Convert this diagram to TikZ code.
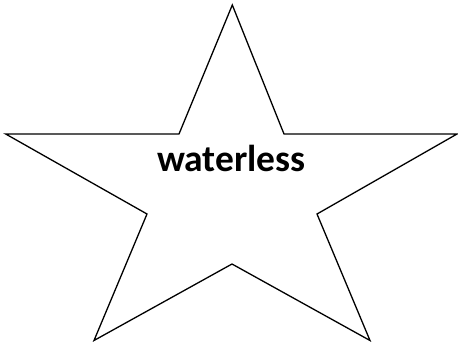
\documentclass[tikz,border=0pt]{standalone}
\usepackage{fontspec}
\setmainfont{Carlito}
\begin{document}
\begin{tikzpicture}[x=1pt,y=-1pt,
  starline/.style={draw=black,line width=1.3pt,line join=miter},
  label/.style={font=\fontsize{37.5}{44}\selectfont\bfseries,inner sep=0pt,anchor=base}]
\useasboundingbox (0,0) rectangle (458,345);
\coordinate (p1) at (232.3,5);
\coordinate (p2) at (284,134);
\coordinate (p3) at (457,134);
\coordinate (p4) at (317,214);
\coordinate (p5) at (370,340.5);
\coordinate (p6) at (232,264);
\coordinate (p7) at (94,340.5);
\coordinate (p8) at (147,214);
\coordinate (p9) at (5.7,134);
\coordinate (p10) at (179,134);
\draw[starline] (p1) -- (p2) -- (p3) -- (p4) -- (p5) -- (p6) -- (p7) -- (p8) -- (p9) -- (p10) -- cycle;
\node[label] (t) at (231.5,171) {waterless};
\end{tikzpicture}
\end{document}
